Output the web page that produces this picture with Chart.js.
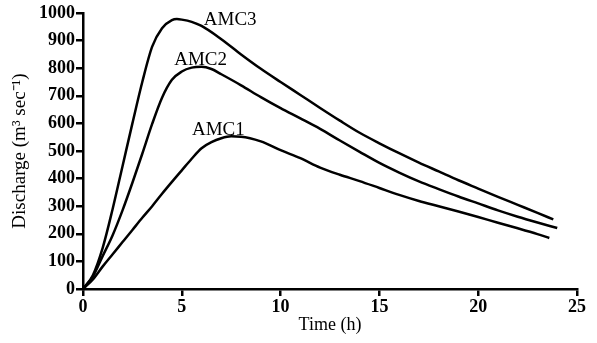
<!DOCTYPE html>
<html>
<head>
<meta charset="utf-8">
<script src="https://cdn.jsdelivr.net/npm/chart.js@4/dist/chart.umd.min.js"></script>
<style>
  html, body { margin: 0; padding: 0; background: #fff; }
  #wrap { width: 597px; height: 343px; }
</style>
</head>
<body>
<div id="wrap"><canvas id="hydro"></canvas></div>
<script>
// values (time in h, discharge in m3/s)
var timeAmc3 = [0, 0.5, 1, 1.5, 2, 2.5, 3, 3.5, 4, 4.5, 4.75, 5, 5.5, 6, 7, 8, 9, 10, 11, 12, 13, 14, 15, 16, 17, 18, 19, 20, 21, 22, 23, 23.8];
var amc3 = [0, 50, 150, 290, 445, 600, 750, 878, 945, 974, 978, 976, 968, 953, 905, 850, 798, 750, 703, 656, 610, 566, 528, 492, 458, 426, 394, 364, 334, 305, 276, 252];

var timeAmc2 = [0, 0.5, 1, 1.5, 2, 2.5, 3, 3.5, 4, 4.5, 5, 5.5, 6, 6.5, 7, 8, 9, 10, 11, 12, 13, 14, 15, 16, 17, 18, 19, 20, 21, 22, 23, 24];
var amc2 = [0, 45, 120, 195, 285, 385, 490, 598, 693, 758, 788, 802, 805, 797, 778, 738, 695, 655, 618, 580, 538, 497, 457, 422, 390, 362, 335, 310, 285, 262, 241, 221];

var timeAmc1 = [0, 0.5, 1, 1.5, 2, 2.5, 3, 3.5, 4, 4.5, 5, 5.5, 6, 6.5, 7, 7.5, 8, 9, 10, 11, 12, 13, 14, 15, 16, 17, 18, 19, 20, 21, 22, 23, 23.6];
var amc1 = [0, 35, 82, 126, 170, 214, 258, 300, 345, 388, 430, 472, 510, 532, 546, 553, 552, 535, 503, 474, 440, 414, 391, 366, 341, 319, 300, 281, 261, 240, 220, 199, 185];

var seriesNames = ['AMC3', 'AMC2', 'AMC1'];
// where each curve name sits, in data units
var labelTime = [7.45, 5.95, 6.85];
var labelValue = [976, 831, 576];

function toPoints(xs, ys) {
    return xs.map(function (x, i) { return { x: x, y: ys[i] }; });
}

var serif = '"Liberation Serif", "Times New Roman", serif';

var curveLabels = {
    id: 'curveLabels',
    afterDatasetsDraw: function (chart) {
        var ctx = chart.ctx;
        var xs = chart.scales.x, ys = chart.scales.y;
        ctx.save();
        ctx.fillStyle = '#000';
        ctx.font = '19px ' + serif;
        ctx.textAlign = 'center';
        ctx.textBaseline = 'middle';
        seriesNames.forEach(function (name, i) {
            ctx.fillText(name, xs.getPixelForValue(labelTime[i]), ys.getPixelForValue(labelValue[i]));
        });
        ctx.restore();
    }
};

var common = {
    borderColor: '#000',
    borderWidth: 2.5,
    pointRadius: 0,
    fill: false,
    cubicInterpolationMode: 'monotone'
};

var ctx = document.getElementById('hydro').getContext('2d');
new Chart(ctx, {
    type: 'line',
    data: {
        datasets: [
            Object.assign({ label: 'AMC3', data: toPoints(timeAmc3, amc3) }, common),
            Object.assign({ label: 'AMC2', data: toPoints(timeAmc2, amc2) }, common),
            Object.assign({ label: 'AMC1', data: toPoints(timeAmc1, amc1) }, common)
        ]
    },
    options: {
        responsive: true,
        maintainAspectRatio: false,
        animation: false,
        layout: { padding: { top: 13, right: 20, left: 0, bottom: 0 } },
        plugins: {
            legend: { display: false },
            tooltip: { enabled: false }
        },
        scales: {
            x: {
                type: 'linear',
                min: 0,
                max: 25,
                ticks: {
                    stepSize: 5,
                    color: '#000',
                    padding: 1,
                    maxRotation: 0,
                    font: { family: serif, size: 18, weight: 'bold' },
                    callback: function (v) { return String(v); }
                },
                grid: {
                    drawOnChartArea: false,
                    drawTicks: true,
                    tickLength: 7,
                    color: '#000',
                    lineWidth: 2.5
                },
                border: { color: '#000', width: 2.5 },
                title: {
                    display: true,
                    text: 'Time (h)',
                    color: '#000',
                    padding: { top: 7, bottom: 7 },
                    font: { family: serif, size: 18 }
                },
                afterFit: function (scale) { scale.height = 54; }
            },
            y: {
                min: 0,
                max: 1000,
                ticks: {
                    stepSize: 100,
                    color: '#000',
                    padding: 1,
                    font: { family: serif, size: 18, weight: 'bold' },
                    callback: function (v) { return String(v); }
                },
                grid: {
                    drawOnChartArea: false,
                    drawTicks: true,
                    tickLength: 7,
                    color: '#000',
                    lineWidth: 2.5
                },
                border: { color: '#000', width: 2.5 },
                title: {
                    display: true,
                    text: 'Discharge (m³ sec⁻¹)',
                    color: '#000',
                    padding: { top: 9, bottom: 0 },
                    font: { family: serif, size: 19 }
                },
                afterFit: function (scale) { scale.width = 83; }
            }
        }
    },
    plugins: [curveLabels]
});
</script>
</body>
</html>
